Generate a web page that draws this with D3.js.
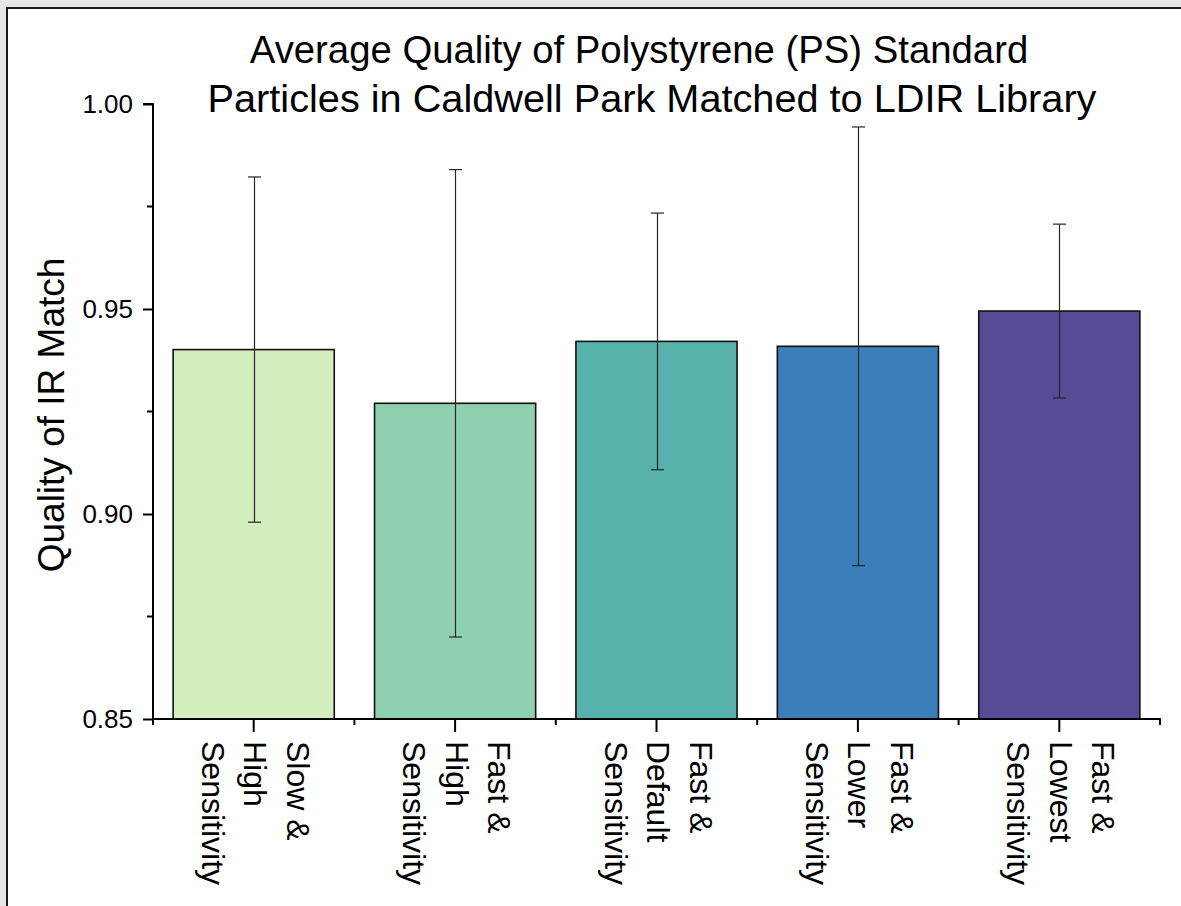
<!DOCTYPE html>
<html>
<head>
<meta charset="utf-8">
<script src="https://cdn.jsdelivr.net/npm/d3@7"></script>
<style>
  html, body { margin: 0; padding: 0; background: #e6e6e6; overflow: hidden; }
  svg { display: block; }
  text { font-family: "Liberation Sans", Arial, Helvetica, sans-serif; fill: #000; }
</style>
</head>
<body>
<script>
// Acquisition settings (each label split into its drawn lines)
const categories = [
  ["Slow &", "High", "Sensitivity"],
  ["Fast &", "High", "Sensitivity"],
  ["Fast &", "Default", "Sensitivity"],
  ["Fast &", "Lower", "Sensitivity"],
  ["Fast &", "Lowest", "Sensitivity"]
];
// Mean match quality and its standard deviation
const meanQuality = [0.9401, 0.9270, 0.9421, 0.9409, 0.9495];
const stdQuality  = [0.0421, 0.0570, 0.0313, 0.0535, 0.0212];
const barColors   = ["#d4edbc", "#8fd0b1", "#57b1ac", "#3a7fb9", "#584a97"];
const yTicks      = [0.85, 0.90, 0.95, 1.00];
const yMinorTicks = [0.875, 0.925, 0.975];
const titleLines  = ["Average Quality of Polystyrene (PS) Standard",
                     "Particles in Caldwell Park Matched to LDIR Library"];
const yLabel      = "Quality of IR Match";

const W = 1181, H = 906;
const plot = { left: 153, right: 1160, top: 104, bottom: 719 };

const svg = d3.select("body").append("svg")
  .attr("width", W).attr("height", H);

// white page panel with dark frame
svg.append("rect")
  .attr("x", 7).attr("y", 8)
  .attr("width", W + 20).attr("height", H + 20)
  .attr("fill", "#fff")
  .attr("stroke", "#1a1a1a").attr("stroke-width", 2);

const keys = categories.map((d, i) => i);
const x = d3.scaleBand()
  .domain(keys)
  .range([plot.left, plot.right])
  .paddingInner(0.2).paddingOuter(0.1);

const y = d3.scaleLinear()
  .domain([0.85, 1.00])
  .range([plot.bottom, plot.top]);

// bars
svg.append("g").selectAll("rect")
  .data(meanQuality)
  .join("rect")
  .attr("x", (d, i) => x(i))
  .attr("width", x.bandwidth())
  .attr("y", d => y(d))
  .attr("height", d => y(0.85) - y(d))
  .attr("fill", (d, i) => barColors[i])
  .attr("stroke", "#111")
  .attr("stroke-width", 1.6);

// error bars
const capHalf = 6.5;
const eb = svg.append("g")
  .attr("stroke", "#262626")
  .attr("stroke-width", 1.2);
meanQuality.forEach((m, i) => {
  const cx = Math.round(x(i) + x.bandwidth() / 2) + 0.5;
  const hi = y(m + stdQuality[i]), lo = y(m - stdQuality[i]);
  eb.append("line").attr("x1", cx).attr("x2", cx).attr("y1", hi).attr("y2", lo);
  eb.append("line").attr("x1", cx - capHalf).attr("x2", cx + capHalf).attr("y1", hi).attr("y2", hi);
  eb.append("line").attr("x1", cx - capHalf).attr("x2", cx + capHalf).attr("y1", lo).attr("y2", lo);
});

// y axis
const yAxis = svg.append("g")
  .attr("transform", `translate(${plot.left},0)`);
yAxis.call(d3.axisLeft(y).tickValues(yTicks).tickFormat(d3.format(".2f"))
  .tickSize(10).tickPadding(10));
yAxis.select(".domain").attr("stroke", "#000").attr("stroke-width", 2)
  .attr("d", `M0,${plot.bottom + 1}V${plot.top}H-10`);
yAxis.selectAll(".tick line").attr("stroke", "#000").attr("stroke-width", 2);
yAxis.selectAll(".tick text")
  .style("font-size", "26px")
  .style("font-family", '"Liberation Sans", Arial, sans-serif');
yAxis.selectAll(".minor").data(yMinorTicks).join("line")
  .attr("class", "minor")
  .attr("x1", -6).attr("x2", 0)
  .attr("y1", d => y(d)).attr("y2", d => y(d))
  .attr("stroke", "#000").attr("stroke-width", 2);

// x axis
const xAxis = svg.append("g")
  .attr("transform", `translate(0,${plot.bottom})`);
xAxis.append("line")
  .attr("x1", plot.left - 1).attr("x2", plot.right + 1)
  .attr("stroke", "#000").attr("stroke-width", 2);
// long ticks at bar centres
xAxis.selectAll(".major").data(keys).join("line")
  .attr("class", "major")
  .attr("x1", d => x(d) + x.bandwidth() / 2).attr("x2", d => x(d) + x.bandwidth() / 2)
  .attr("y1", 0).attr("y2", 13)
  .attr("stroke", "#000").attr("stroke-width", 2);
// short ticks at band edges
const edges = d3.range(keys.length + 1).map(i => plot.left + i * (plot.right - plot.left) / keys.length);
xAxis.selectAll(".edge").data(edges).join("line")
  .attr("class", "edge")
  .attr("x1", d => d).attr("x2", d => d)
  .attr("y1", 0).attr("y2", 6)
  .attr("stroke", "#000").attr("stroke-width", 2);

// rotated multi-line category labels
const lineOffsets = [-33, 9.5, 52];
const labels = svg.append("g").selectAll("g")
  .data(categories)
  .join("g")
  .attr("transform", (d, i) => `translate(${x(i) + x.bandwidth() / 2},${plot.bottom + 22}) rotate(90)`);
labels.each(function (lines) {
  const g = d3.select(this);
  lines.forEach((t, j) => {
    g.append("text")
      .attr("x", 0).attr("y", lineOffsets[j])
      .style("font-size", "32px")
      .text(t);
  });
});

// y axis title
svg.append("text")
  .attr("transform", `translate(64,415) rotate(-90)`)
  .attr("text-anchor", "middle")
  .style("font-size", "37px")
  .text(yLabel);

// chart title, two centred lines
const titleX = [639, 652];
const titleSize = [38.3, 39.7];
svg.append("g").selectAll("text")
  .data(titleLines)
  .join("text")
  .attr("x", (d, i) => titleX[i])
  .attr("y", (d, i) => 63 + i * 49)
  .attr("text-anchor", "middle")
  .style("font-size", (d, i) => titleSize[i] + "px")
  .text(d => d);
</script>
</body>
</html>
